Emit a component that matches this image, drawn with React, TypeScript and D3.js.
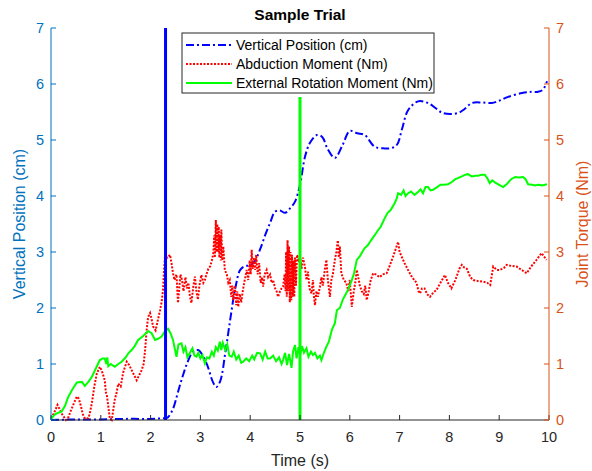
import React from 'react';
import * as d3 from 'd3';

// Vertical Position (cm), left axis
const posT = [0, 0.5, 1, 1.5, 2, 2.25, 2.3, 2.35, 2.45, 2.55, 2.65, 2.75, 2.85, 2.95, 3.05, 3.15, 3.25, 3.32, 3.4, 3.5, 3.6, 3.7, 3.8, 3.9, 4.0, 4.1, 4.2, 4.3, 4.4, 4.5, 4.6, 4.7, 4.8, 4.9, 5.0, 5.1, 5.2, 5.34, 5.45, 5.55, 5.7, 5.85, 6.0, 6.15, 6.3, 6.5, 6.7, 6.85, 6.95, 7.05, 7.17, 7.37, 7.57, 7.75, 7.87, 8.17, 8.3, 8.45, 8.65, 8.85, 9.0, 9.18, 9.46, 9.65, 9.78, 9.88, 9.96];
const posV = [0, 0.01, 0.01, 0.02, 0.02, 0.03, 0.03, 0.05, 0.2, 0.5, 0.8, 1.05, 1.22, 1.25, 1.15, 0.95, 0.68, 0.59, 0.7, 1.2, 1.8, 2.35, 2.68, 2.75, 2.76, 2.85, 3.05, 3.3, 3.52, 3.72, 3.74, 3.7, 3.78, 3.9, 4.2, 4.7, 4.95, 5.09, 5.05, 4.85, 4.68, 4.9, 5.16, 5.12, 5.09, 4.88, 4.85, 4.86, 4.92, 5.2, 5.53, 5.69, 5.66, 5.55, 5.48, 5.48, 5.55, 5.66, 5.67, 5.66, 5.7, 5.77, 5.84, 5.86, 5.86, 5.9, 6.05];

// Abduction Moment (Nm), right axis
const abdT = [0, 0.06, 0.13, 0.17, 0.21, 0.3, 0.35, 0.4, 0.46, 0.52, 0.56, 0.6, 0.64, 0.68, 0.75, 0.78, 0.82, 0.87, 0.92, 0.98, 1.02, 1.08, 1.1, 1.12, 1.15, 1.18, 1.22, 1.28, 1.32, 1.35, 1.4, 1.45, 1.52, 1.57, 1.62, 1.67, 1.72, 1.77, 1.82, 1.86, 1.89, 1.92, 1.95, 1.99, 2.02, 2.05, 2.1, 2.15, 2.19, 2.22, 2.25, 2.27, 2.29, 2.34, 2.39, 2.42, 2.45, 2.48, 2.52, 2.55, 2.58, 2.6, 2.63, 2.66, 2.7, 2.73, 2.76, 2.79, 2.82, 2.86, 2.89, 2.92, 2.95, 2.98, 3.02, 3.06, 3.09, 3.12, 3.16, 3.2, 3.23, 3.26, 3.28, 3.29, 3.31, 3.32, 3.34, 3.35, 3.37, 3.38, 3.39, 3.41, 3.42, 3.44, 3.46, 3.49, 3.53, 3.56, 3.59, 3.62, 3.64, 3.66, 3.69, 3.72, 3.74, 3.76, 3.79, 3.82, 3.85, 3.89, 3.93, 3.96, 3.99, 4.01, 4.03, 4.05, 4.08, 4.1, 4.12, 4.15, 4.18, 4.21, 4.24, 4.26, 4.29, 4.33, 4.36, 4.4, 4.43, 4.46, 4.5, 4.53, 4.56, 4.6, 4.63, 4.66, 4.69, 4.71, 4.72, 4.735, 4.75, 4.765, 4.78, 4.795, 4.81, 4.825, 4.84, 4.855, 4.87, 4.885, 4.9, 4.92, 4.94, 4.97, 5.0, 5.03, 5.06, 5.1, 5.13, 5.16, 5.19, 5.23, 5.26, 5.28, 5.3, 5.33, 5.36, 5.4, 5.43, 5.46, 5.5, 5.53, 5.56, 5.6, 5.63, 5.66, 5.7, 5.73, 5.76, 5.78, 5.8, 5.83, 5.88, 5.93, 5.97, 6.0, 6.04, 6.08, 6.11, 6.14, 6.17, 6.2, 6.24, 6.28, 6.31, 6.34, 6.38, 6.42, 6.47, 6.52, 6.6, 6.66, 6.74, 6.8, 6.87, 6.92, 6.97, 7.0, 7.04, 7.1, 7.17, 7.25, 7.34, 7.38, 7.41, 7.45, 7.5, 7.55, 7.61, 7.68, 7.74, 7.82, 7.91, 7.97, 8.04, 8.12, 8.2, 8.25, 8.3, 8.35, 8.42, 8.48, 8.58, 8.68, 8.76, 8.82, 8.88, 8.95, 9.02, 9.1, 9.15, 9.25, 9.35, 9.45, 9.55, 9.65, 9.75, 9.85, 9.95];
const abdV = [0.03, 0.12, 0.27, 0.2, 0.12, 0.0, 0.05, 0.17, 0.3, 0.42, 0.38, 0.25, 0.1, 0.03, 0.03, 0.12, 0.3, 0.6, 0.83, 0.95, 0.88, 0.71, 0.5, 0.45, 0.25, 0.03, 0.0, 0.36, 0.5, 0.65, 0.6, 0.85, 1.04, 0.98, 0.89, 0.8, 0.71, 0.8, 0.89, 1.0, 1.25, 1.6, 1.84, 1.91, 1.8, 1.67, 1.6, 1.8, 1.96, 2.1, 2.32, 2.68, 2.92, 2.9, 2.95, 2.8, 2.62, 2.5, 2.6, 2.09, 2.4, 2.6, 2.5, 2.3, 2.55, 2.35, 2.45, 2.2, 2.09, 2.4, 2.56, 2.3, 2.15, 2.4, 2.59, 2.45, 2.5, 2.6, 2.7, 2.75, 2.85, 2.98, 3.3, 2.9, 3.57, 3.0, 3.5, 3.0, 3.45, 2.9, 3.3, 2.85, 3.4, 2.85, 3.1, 2.68, 2.6, 2.45, 2.5, 2.2, 2.4, 2.14, 2.4, 2.05, 2.3, 2.02, 2.25, 2.1, 2.3, 2.5, 2.68, 2.5, 2.85, 2.6, 3.04, 2.7, 2.9, 2.68, 2.95, 2.6, 2.8, 2.45, 2.55, 2.38, 2.6, 2.68, 2.55, 2.6, 2.45, 2.5, 2.35, 2.3, 2.2, 2.3, 2.35, 2.38, 2.6, 2.3, 3.0, 2.2, 3.21, 2.3, 3.1, 2.1, 3.0, 2.14, 2.95, 2.2, 2.85, 2.2, 2.9, 2.4, 2.95, 2.86, 2.92, 2.7, 2.9, 2.73, 2.5, 2.65, 2.35, 2.26, 2.5, 2.2, 2.05, 2.3, 2.2, 2.38, 2.55, 2.4, 2.7, 2.86, 2.5, 2.2, 2.5, 2.6, 2.86, 3.0, 3.21, 2.9, 3.1, 2.62, 2.5, 2.45, 2.3, 2.5, 2.02, 2.3, 2.45, 2.68, 2.55, 2.4, 2.3, 2.25, 2.4, 2.14, 2.3, 2.5, 2.62, 2.6, 2.55, 2.6, 2.62, 2.75, 2.92, 3.05, 3.18, 3.0, 2.92, 2.8, 2.68, 2.55, 2.45, 2.3, 2.26, 2.35, 2.35, 2.25, 2.2, 2.28, 2.32, 2.45, 2.59, 2.45, 2.35, 2.5, 2.7, 2.77, 2.72, 2.7, 2.55, 2.5, 2.48, 2.47, 2.45, 2.41, 2.74, 2.68, 2.68, 2.72, 2.77, 2.75, 2.74, 2.68, 2.62, 2.75, 2.86, 2.98, 2.86];

// External Rotation Moment (Nm), right axis
const extT = [0, 0.08, 0.15, 0.21, 0.28, 0.34, 0.43, 0.52, 0.62, 0.68, 0.75, 0.82, 0.9, 0.98, 1.04, 1.08, 1.11, 1.13, 1.15, 1.2, 1.28, 1.35, 1.42, 1.5, 1.56, 1.62, 1.68, 1.75, 1.85, 1.95, 2.02, 2.09, 2.15, 2.22, 2.3, 2.35, 2.4, 2.45, 2.48, 2.52, 2.56, 2.62, 2.66, 2.7, 2.74, 2.79, 2.84, 2.88, 2.92, 2.96, 3.0, 3.04, 3.09, 3.13, 3.18, 3.23, 3.27, 3.31, 3.35, 3.39, 3.42, 3.45, 3.5, 3.54, 3.58, 3.63, 3.67, 3.72, 3.77, 3.82, 3.86, 3.92, 3.98, 4.04, 4.08, 4.14, 4.2, 4.25, 4.3, 4.35, 4.4, 4.46, 4.52, 4.58, 4.63, 4.66, 4.7, 4.74, 4.78, 4.83, 4.86, 4.9, 4.93, 4.97, 5.0, 5.04, 5.08, 5.13, 5.17, 5.22, 5.26, 5.3, 5.35, 5.4, 5.43, 5.48, 5.53, 5.58, 5.64, 5.7, 5.74, 5.8, 5.86, 5.92, 5.96, 6.02, 6.08, 6.14, 6.2, 6.25, 6.3, 6.36, 6.42, 6.5, 6.56, 6.62, 6.7, 6.76, 6.82, 6.9, 6.94, 6.97, 7.03, 7.08, 7.12, 7.17, 7.23, 7.3, 7.37, 7.42, 7.47, 7.52, 7.57, 7.62, 7.67, 7.74, 7.82, 7.9, 7.97, 8.05, 8.12, 8.17, 8.25, 8.32, 8.37, 8.45, 8.52, 8.57, 8.64, 8.71, 8.76, 8.81, 8.86, 8.92, 9.0, 9.08, 9.16, 9.24, 9.32, 9.4, 9.48, 9.53, 9.58, 9.66, 9.72, 9.78, 9.86, 9.96];
const extV = [0.02, 0.1, 0.13, 0.15, 0.25, 0.4, 0.55, 0.67, 0.68, 0.61, 0.68, 0.77, 0.92, 1.07, 1.1, 1.1, 1.0, 1.12, 0.96, 1.0, 0.95, 1.0, 1.04, 1.12, 1.2, 1.25, 1.32, 1.43, 1.5, 1.59, 1.55, 1.43, 1.45, 1.49, 1.6, 1.63, 1.55, 1.43, 1.3, 1.13, 1.35, 1.37, 1.22, 1.3, 1.12, 1.2, 1.28, 1.15, 1.13, 1.2, 1.1, 1.16, 1.01, 1.12, 1.1, 1.22, 1.15, 1.3, 1.24, 1.4, 1.25, 1.38, 1.25, 1.35, 1.15, 1.13, 1.22, 1.08, 1.15, 1.02, 1.04, 1.1, 1.05, 1.15, 1.08, 1.2, 1.19, 1.08, 1.22, 1.1, 1.1, 1.15, 1.05, 1.12, 1.0, 1.07, 1.2, 0.98, 1.18, 0.93, 1.22, 1.34, 1.1, 1.3, 1.15, 1.32, 1.2, 1.28, 1.13, 1.22, 1.16, 1.2, 1.1, 1.15, 1.07, 1.2, 1.31, 1.4, 1.61, 1.73, 1.96, 2.0, 2.15, 2.25, 2.32, 2.45, 2.6, 2.86, 2.92, 3.0, 3.07, 3.12, 3.2, 3.3, 3.38, 3.45, 3.6, 3.7, 3.75, 3.87, 3.95, 4.05, 4.02, 4.1, 4.0, 4.05, 4.08, 4.02, 4.07, 4.12, 4.05, 4.16, 4.16, 4.1, 4.11, 4.15, 4.2, 4.2, 4.21, 4.25, 4.3, 4.32, 4.35, 4.38, 4.39, 4.35, 4.36, 4.36, 4.38, 4.38, 4.32, 4.23, 4.28, 4.24, 4.2, 4.16, 4.22, 4.3, 4.34, 4.33, 4.34, 4.3, 4.21, 4.2, 4.19, 4.2, 4.19, 4.21];

const xTicks = [0, 1, 2, 3, 4, 5, 6, 7, 8, 9, 10];
const yTicks = [0, 1, 2, 3, 4, 5, 6, 7];

const legendLabels = ['Vertical Position (cm)', 'Abduction Moment (Nm)', 'External Rotation Moment (Nm)'];

const W = 592;
const H = 471;
const margin = { top: 28, right: 43, bottom: 51, left: 51 };
const FONT = 'Liberation Sans, Arial, Helvetica, sans-serif';
const LEFT_COLOR = '#0072BD';
const RIGHT_COLOR = '#D95319';
const AXIS_GRAY = '#262626';

export default function App() {
  const x = d3.scaleLinear().domain([0, 10]).range([margin.left, W - margin.right]);
  const yL = d3.scaleLinear().domain([0, 7]).range([H - margin.bottom, margin.top]);
  const yR = d3.scaleLinear().domain([0, 7]).range([H - margin.bottom, margin.top]);

  const line = (ts: number[], vs: number[], y: d3.ScaleLinear<number, number>, curve: d3.CurveFactory) =>
    d3.line<number>()
      .x((_, i) => x(ts[i]))
      .y((v) => y(v))
      .curve(curve)(vs) || '';

  const bottomY = yL(0);
  const topY = yL(7);

  return (
    <div style={{ position: 'absolute', left: 0, top: 0 }}>
      <svg width={W} height={H} style={{ display: 'block', fontFamily: FONT }}>
        <rect width={W} height={H} fill="#fff" />

        {/* data lines */}
        <path d={line(posT, posV, yL, d3.curveCatmullRom)} fill="none" stroke="#0000FF" strokeWidth={2} strokeDasharray="8 3 2 3" />
        <path d={line(abdT, abdV, yR, d3.curveLinear)} fill="none" stroke="#FF0000" strokeWidth={2} strokeDasharray="2 1.5" />
        <path d={line(extT, extV, yR, d3.curveLinear)} fill="none" stroke="#00FF00" strokeWidth={2} />

        {/* event markers */}
        <line x1={x(2.3)} x2={x(2.3)} y1={yL(0)} y2={yL(7)} stroke="#0000FF" strokeWidth={3} />
        <line x1={x(5)} x2={x(5)} y1={yR(0)} y2={yR(5.77)} stroke="#00FF00" strokeWidth={3} />

        {/* bottom axis */}
        <line x1={x(0)} x2={x(10)} y1={bottomY} y2={bottomY} stroke={AXIS_GRAY} strokeWidth={1} />
        {xTicks.map((t) => (
          <g key={'x' + t}>
            <line x1={x(t)} x2={x(t)} y1={bottomY} y2={bottomY - 5} stroke={AXIS_GRAY} />
            <text x={x(t)} y={bottomY + 22} textAnchor="middle" fontSize={14.5} fill={AXIS_GRAY}>{t}</text>
          </g>
        ))}
        <text x={x(5)} y={H - 5} textAnchor="middle" fontSize={16} fill={AXIS_GRAY}>Time (s)</text>

        {/* left axis */}
        <line x1={x(0)} x2={x(0)} y1={bottomY} y2={topY} stroke={LEFT_COLOR} strokeWidth={1} />
        {yTicks.map((t) => (
          <g key={'yl' + t}>
            <line x1={x(0)} x2={x(0) + 5} y1={yL(t)} y2={yL(t)} stroke={LEFT_COLOR} />
            <text x={x(0) - 7} y={yL(t) + 5} textAnchor="end" fontSize={14.5} fill={LEFT_COLOR}>{t}</text>
          </g>
        ))}
        <text transform={`translate(25,${(bottomY + topY) / 2}) rotate(-90)`} textAnchor="middle" fontSize={16} fill={LEFT_COLOR}>Vertical Position (cm)</text>

        {/* right axis */}
        <line x1={x(10)} x2={x(10)} y1={bottomY} y2={topY} stroke={RIGHT_COLOR} strokeWidth={1} />
        {yTicks.map((t) => (
          <g key={'yr' + t}>
            <line x1={x(10)} x2={x(10) - 5} y1={yR(t)} y2={yR(t)} stroke={RIGHT_COLOR} />
            <text x={x(10) + 7} y={yR(t) + 5} textAnchor="start" fontSize={14.5} fill={RIGHT_COLOR}>{t}</text>
          </g>
        ))}
        <text transform={`translate(588,${(bottomY + topY) / 2}) rotate(-90)`} textAnchor="middle" fontSize={16} fill={RIGHT_COLOR}>Joint Torque (Nm)</text>

        {/* title */}
        <text x={x(5)} y={20} textAnchor="middle" fontSize={15.5} fontWeight="bold" fill="#000">Sample Trial</text>

        {/* legend */}
        <g transform="translate(182,33)">
          <rect width={252} height={60} fill="#fff" stroke={AXIS_GRAY} strokeWidth={1} />
          {legendLabels.map((lab, i) => {
            const ly = 12 + i * 19;
            const styles = [
              { stroke: '#0000FF', dash: '8 3 2 3' },
              { stroke: '#FF0000', dash: '2 1.5' },
              { stroke: '#00FF00', dash: undefined },
            ][i];
            return (
              <g key={lab}>
                <line x1={4} x2={50} y1={ly} y2={ly} stroke={styles.stroke} strokeWidth={2} strokeDasharray={styles.dash} />
                <text x={54} y={ly + 5} fontSize={14} fill="#000">{lab}</text>
              </g>
            );
          })}
        </g>
      </svg>
    </div>
  );
}
